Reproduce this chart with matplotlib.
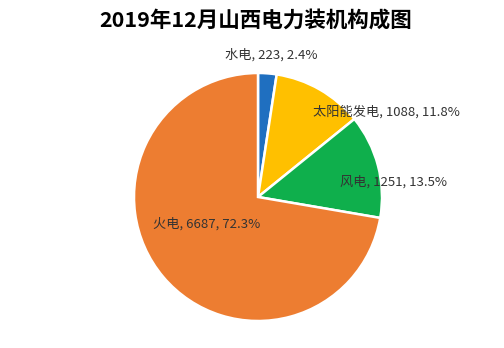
import matplotlib
matplotlib.use("Agg")
import matplotlib.pyplot as plt

plt.rcParams['font.family'] = ['Noto Sans CJK SC', 'DejaVu Sans']

# 2019年12月 山西装机容量（万千瓦）
names = ['水电', '太阳能发电', '风电', '火电']
capacity = [223, 1088, 1251, 6687]
colors = ['#1F6FC0', '#FFC000', '#0FAF4C', '#ED7D31']

total = sum(capacity)
shares = [v / total * 100 for v in capacity]

W, H = 504, 348
fig = plt.figure(figsize=(W / 100, H / 100), dpi=100)
ax = fig.add_axes([0, 0, 1, 1])
ax.set_xlim(0, W)
ax.set_ylim(0, H)
ax.set_aspect('equal')
ax.axis('off')

ax.pie(capacity, colors=colors, startangle=90, counterclock=False,
       center=(258, H - 197), radius=124,
       wedgeprops=dict(edgecolor='white', linewidth=1.8))
ax.set_xlim(0, W)
ax.set_ylim(0, H)

# label anchors (left edge, vertical middle)
label_pos = [(225, 55), (313, 112), (340, 182), (153, 224)]
for name, v, pct, (lx, ly) in zip(names, capacity, shares, label_pos):
    ax.text(lx, H - ly, f'{name}, {v}, {pct:.1f}%', fontsize=9.5,
            color='#333333', ha='left', va='center')

fig.text(256 / W, 1 - 20 / H, '2019年12月山西电力装机构成图', fontsize=15.5,
         fontweight='bold', ha='center', va='center', color='black')

fig.savefig('out.png', dpi=100, facecolor='white')
